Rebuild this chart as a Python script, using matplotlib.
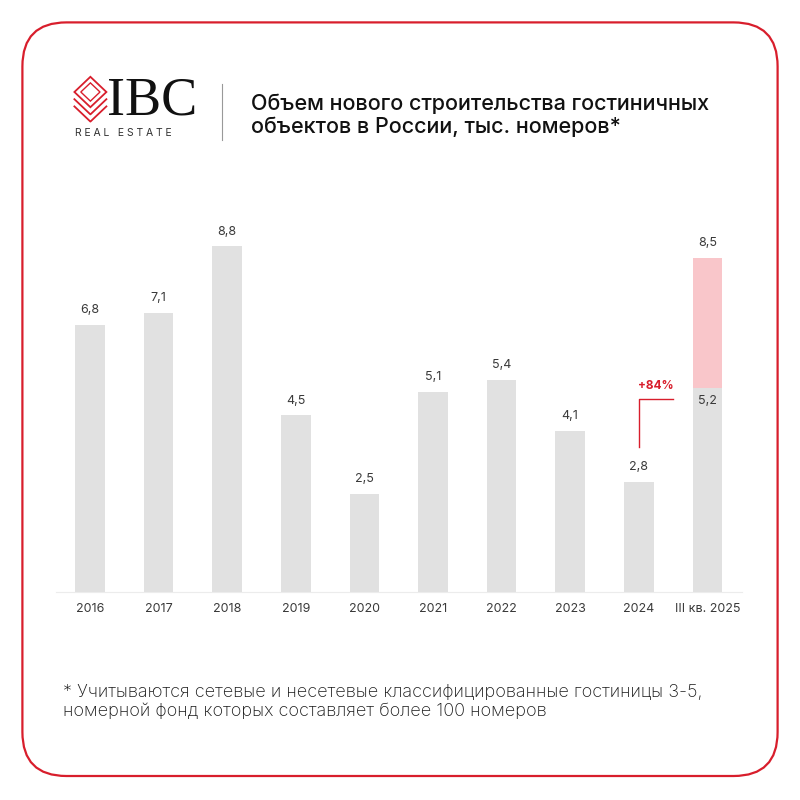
import matplotlib
matplotlib.use("Agg")
import matplotlib.pyplot as plt
from matplotlib.patches import FancyBboxPatch, Polygon
from matplotlib.lines import Line2D

# data
years = ["2016", "2017", "2018", "2019", "2020", "2021", "2022", "2023", "2024", "III кв. 2025"]
values = [6.8, 7.1, 8.8, 4.5, 2.5, 5.1, 5.4, 4.1, 2.8, 5.2]
extra_2025 = 3.3
total_2025 = 8.5
growth_label = "+84%"

title = "Объем нового строительства гостиничных\nобъектов в России, тыс. номеров*"
footnote = ("* Учитываются сетевые и несетевые классифицированные гостиницы 3-5,\n"
            "номерной фонд которых составляет более 100 номеров")

RED = "#d81e2c"
GREY = "#e1e1e1"
PINK = "#f9c6ca"
TXT = "#3a3a3a"

plt.rcParams['font.family'] = ['Inter', 'DejaVu Sans']

fig = plt.figure(figsize=(8, 8), dpi=100)
fig.patch.set_facecolor("white")

# rounded red frame
frame = FancyBboxPatch((0.028, 0.030), 0.944, 0.942,
                       boxstyle="round,pad=0,rounding_size=0.055",
                       transform=fig.transFigure, fill=False,
                       edgecolor=RED, linewidth=1.6)
fig.patches.append(frame)

# logo icon: stacked diamonds
for k, dy in enumerate([0.0, 0.009, 0.018]):
    cx, cy = 0.113, 0.885 - dy
    w, h = 0.020, 0.019
    pts = [(cx - w, cy), (cx, cy + h), (cx + w, cy), (cx, cy - h)]
    if k == 0:
        fig.patches.append(Polygon(pts, closed=True, fill=False, edgecolor=RED,
                                   linewidth=1.3, transform=fig.transFigure))
        # inner diamond
        w2, h2 = w * 0.6, h * 0.6
        pts2 = [(cx - w2, cy), (cx, cy + h2), (cx + w2, cy), (cx, cy - h2)]
        fig.patches.append(Polygon(pts2, closed=True, fill=False, edgecolor=RED,
                                   linewidth=1.0, transform=fig.transFigure))
    else:
        fig.lines.append(Line2D([cx - w, cx, cx + w], [cy, cy - h, cy],
                                color=RED, linewidth=1.3, transform=fig.transFigure))
fig.text(0.134, 0.874, "IBC", family="Liberation Serif", fontsize=39,
         color="#111111", va="center", ha="left")
fig.text(0.094, 0.834, "R E A L   E S T A T E", fontsize=7.5, color="#333333",
         va="center", ha="left")
fig.lines.append(Line2D([0.278, 0.278], [0.825, 0.895], color="#999999",
                        linewidth=0.8, transform=fig.transFigure))

fig.text(0.314, 0.856, title, fontsize=15.5, fontweight="medium", color="#111111",
         va="center", ha="left", linespacing=1.2)

# chart
ax = fig.add_axes([0.0696, 0.26, 0.8575, 0.491])
x = list(range(len(years)))
ax.bar(x, values, width=0.43, color=GREY, zorder=2)
ax.bar(x[-1], extra_2025, bottom=values[-1], width=0.43, color=PINK, zorder=2)

for i, v in enumerate(values[:-1]):
    ax.text(i, v + 0.22, f"{v:.1f}".replace(".", ","), ha="center", va="bottom",
            fontsize=9, color=TXT)
ax.text(x[-1], total_2025 + 0.22, f"{total_2025:.1f}".replace(".", ","),
        ha="center", va="bottom", fontsize=9, color=TXT)
ax.text(x[-1], values[-1] - 0.18, f"{values[-1]:.1f}".replace(".", ","),
        ha="center", va="top", fontsize=9, color=TXT)

# growth bracket
ax.plot([8, 8, 8.5], [3.69, 4.91, 4.91], color=RED, linewidth=1.0, zorder=3)
ax.text(8.25, 5.1, growth_label, ha="center", va="bottom", fontsize=8.5,
        fontweight="bold", color=RED)

ax.set_xlim(-0.5, 9.5)
ax.set_ylim(0, 10)
ax.set_xticks(x)
ax.set_xticklabels(years, fontsize=9, color=TXT)
ax.tick_params(axis="x", length=0, pad=8)
ax.set_yticks([])
for s in ["top", "right", "left"]:
    ax.spines[s].set_visible(False)
ax.spines["bottom"].set_color("#ececec")
ax.spines["bottom"].set_linewidth(0.8)

fig.text(0.079, 0.123, footnote, fontsize=13, fontweight="light", color="#1a1a1a",
         va="center", ha="left", linespacing=1.15)

fig.savefig("out.png", dpi=100, facecolor="white")
